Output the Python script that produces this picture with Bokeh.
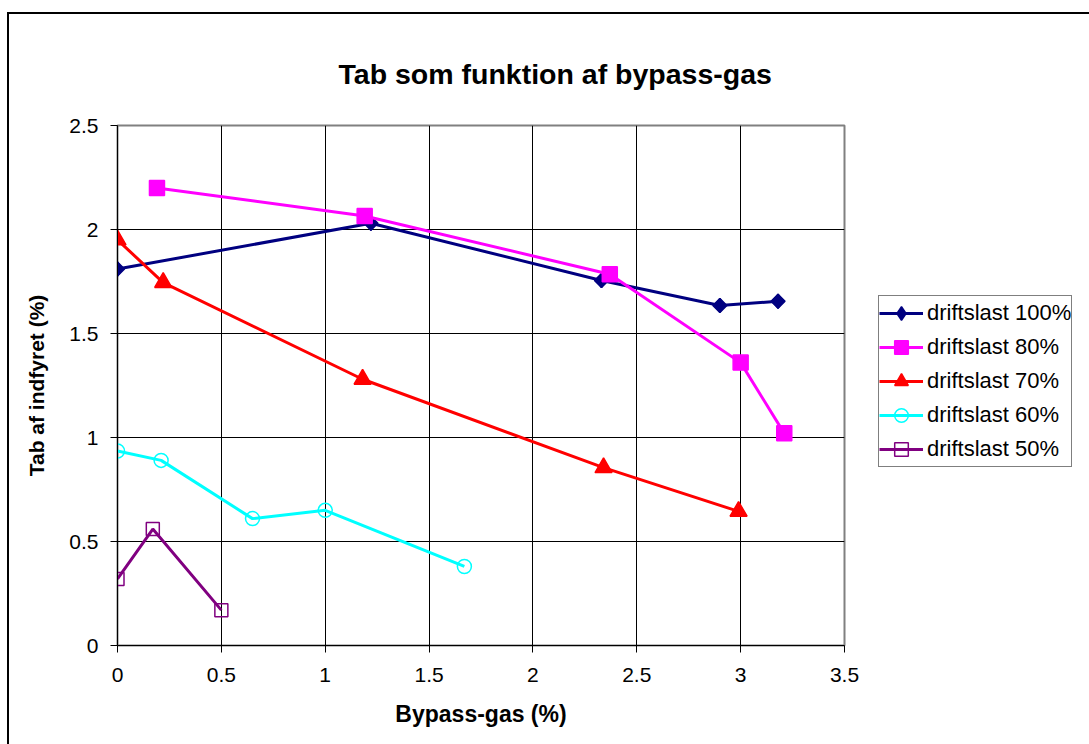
import math
from bokeh.plotting import figure
from bokeh.models import Legend, LegendItem, FixedTicker, Range1d
from bokeh.embed import file_html
from bokeh.resources import INLINE

title = "Tab som funktion af bypass-gas"
x_label = "Bypass-gas (%)"
y_label = "Tab af indfyret (%)"

x_ticks = [0, 0.5, 1, 1.5, 2, 2.5, 3, 3.5]
x_tick_labels = ["0", "0.5", "1", "1.5", "2", "2.5", "3", "3.5"]
y_ticks = [0, 0.5, 1, 1.5, 2, 2.5]
y_tick_labels = ["0", "0.5", "1", "1.5", "2", "2.5"]

names = ["driftslast 100%", "driftslast 80%", "driftslast 70%", "driftslast 60%", "driftslast 50%"]

x100 = [0.0, 1.22, 2.33, 2.90, 3.18]
y100 = [1.81, 2.03, 1.755, 1.635, 1.655]
x80 = [0.19, 1.19, 2.37, 3.00, 3.21]
y80 = [2.20, 2.065, 1.785, 1.36, 1.02]
x70 = [0.0, 0.22, 1.18, 2.34, 2.99]
y70 = [1.95, 1.745, 1.28, 0.855, 0.645]
x60 = [0.0, 0.21, 0.65, 1.0, 1.67]
y60 = [0.935, 0.89, 0.61, 0.65, 0.38]
x50 = [0.0, 0.17, 0.50]
y50 = [0.32, 0.56, 0.17]

FONT = "Liberation Sans"

p = figure(frame_width=727, frame_height=520, output_backend="svg", toolbar_location=None,
           x_range=Range1d(0, 3.5), y_range=Range1d(0, 2.5),
           min_border_left=108, min_border_right=242, min_border_top=111, min_border_bottom=99)
p.styles = {"border": "2px solid black", "margin-left": "7px", "margin-top": "12px"}

x_axis = p.below[0]
y_axis = p.left[0]

p.title.text = title
p.title.align = "left"
p.title.offset = 221
p.title.text_font = FONT
p.title.text_font_size = "28.5px"
p.title.text_font_style = "bold"
p.title.text_color = "black"
p.title.standoff = 72

p.outline_line_color = "#808080"
p.outline_line_width = 2
p.background_fill_color = "white"
p.border_fill_color = "white"

for ax, ticks, labels in ((x_axis, x_ticks, x_tick_labels), (y_axis, y_ticks, y_tick_labels)):
    ax.ticker = FixedTicker(ticks=ticks)
    ax.major_label_overrides = {t: l for t, l in zip(ticks, labels)}
    ax.minor_tick_line_color = None
    ax.major_tick_in = 0
    ax.major_tick_out = 7
    ax.axis_line_color = "black"
    ax.major_tick_line_color = "black"
    ax.major_label_text_font = FONT
    ax.major_label_text_font_size = "21px"
    ax.major_label_text_color = "black"
    ax.axis_label_text_font = FONT
    ax.axis_label_text_font_style = "bold"
    ax.axis_label_text_color = "black"

x_axis.axis_label = x_label
y_axis.axis_label = y_label
x_axis.axis_label_text_font_size = "23px"
y_axis.axis_label_text_font_size = "21px"
x_axis.major_label_standoff = 15
y_axis.major_label_standoff = 12
x_axis.axis_label_standoff = 16
y_axis.axis_label_standoff = 18

p.xgrid.ticker = FixedTicker(ticks=x_ticks)
p.ygrid.ticker = FixedTicker(ticks=y_ticks)
p.grid.grid_line_color = "black"
p.grid.grid_line_width = 1

# (xs, ys, colour, marker, size, filled)
series = [
    (x100, y100, "#000080", "diamond", 14, True),
    (x80, y80, "#FF00FF", "square", 15, True),
    (x70, y70, "#FF0000", "triangle", 17, True),
    (x60, y60, "#00FFFF", "circle", 14, False),
    (x50, y50, "#800080", "square", 13, False),
]

items = []
for (xs, ys, col, marker, size, filled), name in zip(series, names):
    fill = col if filled else None
    ln = p.line(xs, ys, line_color=col, line_width=3)
    sc = p.scatter(xs, ys, marker=marker, size=size, line_color=col, line_width=1.5,
                   fill_color=fill)
    if marker == "diamond":
        # widen the plotted diamond (rotated square) to match the reference
        p.scatter(xs, ys, marker="square", size=size / math.sqrt(2), angle=math.pi / 4,
                  line_color=col, line_width=1.5, fill_color=fill)
    items.append(LegendItem(label=name, renderers=[ln, sc]))

legend = Legend(items=items, location=(34, 178))
legend.label_text_font = FONT
legend.label_text_font_size = "22px"
legend.label_text_color = "black"
legend.glyph_width = 44
legend.glyph_height = 34
legend.label_height = 34
legend.spacing = 0
legend.padding = 0
legend.margin = 0
legend.label_standoff = 4
legend.border_line_color = "black"
legend.border_line_width = 1
legend.background_fill_color = "white"
legend.background_fill_alpha = 1
p.add_layout(legend, "right")

open("out.html", "w").write(file_html(p, INLINE))
